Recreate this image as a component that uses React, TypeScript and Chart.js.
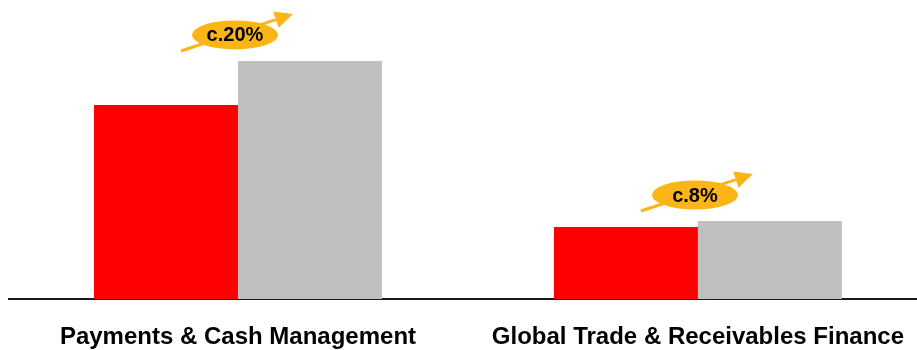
import React, { useEffect, useRef } from "react";
import { Chart, registerables } from "chart.js";

Chart.register(...registerables);

const categories = ["Payments & Cash Management", "Global Trade & Receivables Finance"];
const previousValues = [66.7, 24.7];
const currentValues = [81.8, 26.8];
const growthLabels = ["c.20%", "c.8%"];
const yMax = 100;

const RED = "#FF0000";
const GRAY = "#C0C0C0";
const GOLD = "#FBB516";

const growthPlugin = {
  id: "growthBadges",
  afterDatasetsDraw(chart: any) {
    const ctx = chart.ctx as CanvasRenderingContext2D;
    const meta = chart.getDatasetMeta(1);
    const xScale = chart.scales.x;
    growthLabels.forEach((label, i) => {
      const el = meta.data[i];
      if (!el) return;
      const cx = xScale.getPixelForValue(i) - 3;
      const cy = el.y - 26;
      ctx.save();
      const sx = cx - 54;
      const sy = cy + 16;
      const tx = cx + 58;
      const ty = cy - 21;
      const ang = Math.atan2(ty - sy, tx - sx);
      const headLen = 18;
      const headW = 8.5;
      const bx = tx - headLen * Math.cos(ang);
      const by = ty - headLen * Math.sin(ang);
      ctx.strokeStyle = GOLD;
      ctx.fillStyle = GOLD;
      ctx.lineWidth = 3;
      ctx.beginPath();
      ctx.moveTo(sx, sy);
      ctx.lineTo(bx, by);
      ctx.stroke();
      ctx.beginPath();
      ctx.moveTo(tx, ty);
      ctx.lineTo(bx + headW * Math.sin(ang), by - headW * Math.cos(ang));
      ctx.lineTo(bx - headW * Math.sin(ang), by + headW * Math.cos(ang));
      ctx.closePath();
      ctx.fill();
      ctx.beginPath();
      ctx.ellipse(cx, cy, 43, 14.5, 0, 0, Math.PI * 2);
      ctx.fill();
      ctx.fillStyle = "#000000";
      ctx.font = "bold 20px 'Liberation Sans', Arial, sans-serif";
      ctx.textAlign = "center";
      ctx.textBaseline = "middle";
      ctx.fillText(label, cx, cy + 1);
      ctx.restore();
    });
  },
};

export default function App() {
  const canvasRef = useRef<HTMLCanvasElement | null>(null);

  useEffect(() => {
    document.documentElement.style.overflow = "hidden";
    document.body.style.marginRight = "0";
    document.body.style.marginBottom = "0";
    const canvas = canvasRef.current;
    if (!canvas) return;
    const chart = new Chart(canvas, {
      type: "bar",
      data: {
        labels: categories,
        datasets: [
          {
            label: "Previous",
            data: previousValues,
            backgroundColor: RED,
            borderWidth: 0,
            categoryPercentage: 0.626,
            barPercentage: 1,
          },
          {
            label: "Current",
            data: currentValues,
            backgroundColor: GRAY,
            borderWidth: 0,
            categoryPercentage: 0.626,
            barPercentage: 1,
          },
        ],
      },
      options: {
        responsive: false,
        animation: false,
        layout: { padding: 0 },
        plugins: {
          legend: { display: false },
          tooltip: { enabled: false },
        },
        scales: {
          x: {
            grid: { display: false, drawTicks: false },
            border: { display: true, color: "#1a1a1a", width: 2 },
            ticks: {
              color: "#000000",
              padding: 24,
              font: { family: "'Liberation Sans', Arial, sans-serif", size: 24, weight: "bold" },
              maxRotation: 0,
              autoSkip: false,
            },
            afterFit(scale: any) {
              scale.height = 51;
            },
          },
          y: {
            display: false,
            min: 0,
            max: yMax,
          },
        },
      },
      plugins: [growthPlugin],
    });
    return () => chart.destroy();
  }, []);

  return (
    <div style={{ width: 909, height: 342, overflow: "hidden" }}>
      <canvas ref={canvasRef} width={920} height={342} style={{ display: "block" }} />
    </div>
  );
}
